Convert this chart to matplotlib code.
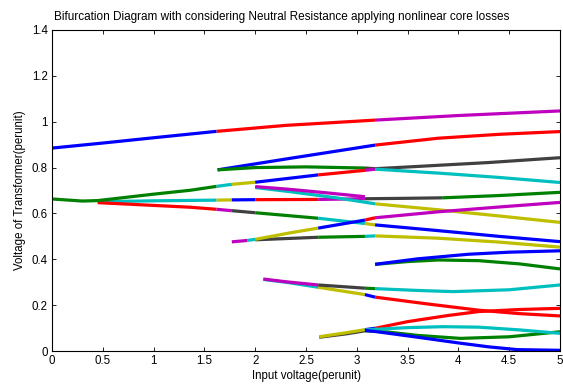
import matplotlib
matplotlib.use("Agg")
import matplotlib.pyplot as plt

# ---------------- data ----------------
title = "Bifurcation Diagram with considering Neutral Resistance applying nonlinear core losses"
xlabel = "Input voltage(perunit)"
ylabel = "Voltage of Transformer(perunit)"
xticks = [0, 0.5, 1, 1.5, 2, 2.5, 3, 3.5, 4, 4.5, 5]
yticks = [0, 0.2, 0.4, 0.6, 0.8, 1.0, 1.2, 1.4]

# each branch: x points, y points, colour code for each segment between points
b1_x = [0, 0.5, 1.0, 1.62, 2.3, 3.18, 4.0, 5.0]
b1_y = [0.885, 0.907, 0.93, 0.958, 0.984, 1.007, 1.027, 1.047]
b1_c = "bbbrrmm"

b2_x = [1.63, 2.34, 3.18, 3.8, 4.4, 5.0]
b2_y = [0.79, 0.84, 0.898, 0.928, 0.945, 0.957]
b2_c = "bbrrr"

b3_x = [1.63, 2.0, 2.5, 3.08, 3.18, 3.6, 4.3, 5.0]
b3_y = [0.79, 0.80, 0.803, 0.798, 0.795, 0.805, 0.822, 0.843]
b3_c = "gggkkkk"

b4_x = [0, 0.3, 0.45, 1.0, 1.36, 1.62, 1.77, 2.0, 2.62, 3.08, 3.18, 3.8, 4.4, 5.0]
b4_y = [0.663, 0.654, 0.656, 0.684, 0.701, 0.718, 0.727, 0.736, 0.768, 0.788, 0.793, 0.776, 0.757, 0.735]
b4_c = "gggggcybrmccc"

b5_x = [2.0, 2.34, 2.7, 3.08]
b5_y = [0.717, 0.705, 0.69, 0.673]
b5_c = "mmm"

b6_x = [2.0, 2.34, 2.8, 3.18, 3.8, 4.4, 5.0]
b6_y = [0.713, 0.695, 0.668, 0.642, 0.616, 0.589, 0.561]
b6_c = "cccyyy"

b7_x = [0.45, 1.0, 1.62, 1.77, 2.0, 2.62, 3.08, 3.5, 3.84, 4.4, 5.0]
b7_y = [0.651, 0.655, 0.658, 0.659, 0.66, 0.661, 0.664, 0.666, 0.668, 0.678, 0.692]
b7_c = "ccybrmkkgg"

b8_x = [0.45, 1.0, 1.36, 1.62, 1.77, 2.0, 2.62, 3.08, 3.18, 3.8, 4.4, 5.0]
b8_y = [0.647, 0.635, 0.627, 0.618, 0.612, 0.603, 0.579, 0.556, 0.55, 0.525, 0.5, 0.477]
b8_c = "rrrmkgcybbb"

b9_x = [1.77, 1.92, 2.0, 2.34, 2.62, 3.08, 3.18, 3.8, 4.4, 5.0]
b9_y = [0.476, 0.482, 0.487, 0.515, 0.536, 0.571, 0.581, 0.607, 0.628, 0.648]
b9_c = "mcyybrmmm"

b10_x = [2.0, 2.62, 3.08, 3.18, 3.8, 4.4, 5.0]
b10_y = [0.485, 0.496, 0.5, 0.502, 0.492, 0.475, 0.453]
b10_c = "kgcyyy"

b11_x = [2.08, 2.3, 2.62, 3.08, 3.18, 3.6, 3.95, 4.5, 5.0]
b11_y = [0.314, 0.302, 0.288, 0.274, 0.272, 0.264, 0.259, 0.267, 0.288]
b11_c = "mmkgcccc"

b12_x = [2.08, 2.3, 2.62, 3.08, 3.18, 3.7, 4.2, 4.6, 5.0]
b12_y = [0.312, 0.300, 0.278, 0.246, 0.235, 0.205, 0.178, 0.163, 0.153]
b12_c = "ccybrrrr"

b13_x = [2.63, 2.9, 3.08, 3.18, 3.5, 3.9, 4.2, 4.6, 5.0]
b13_y = [0.062, 0.080, 0.093, 0.099, 0.128, 0.155, 0.172, 0.181, 0.186]
b13_c = "yybrrrrr"

b14_x = [2.63, 2.9, 3.08, 3.3, 3.6, 4.02, 4.5, 5.0]
b14_y = [0.06, 0.075, 0.088, 0.083, 0.068, 0.055, 0.062, 0.084]
b14_c = "kkggggg"

b15_x = [3.08, 3.2, 3.6, 4.02, 4.3, 4.58, 5.0]
b15_y = [0.09, 0.084, 0.06, 0.034, 0.018, 0.006, 0.003]
b15_c = "bbbbbb"

b16_x = [3.08, 3.2, 3.5, 3.85, 4.2, 4.6, 5.0]
b16_y = [0.092, 0.095, 0.102, 0.106, 0.104, 0.092, 0.077]
b16_c = "cccccc"

b17_x = [3.18, 3.6, 4.1, 4.5, 5.0]
b17_y = [0.378, 0.402, 0.422, 0.431, 0.437]
b17_c = "bbbb"

b18_x = [3.18, 3.5, 3.8, 4.2, 4.6, 5.0]
b18_y = [0.378, 0.39, 0.397, 0.394, 0.38, 0.358]
b18_c = "ggggg"

branches = [
    (b1_x, b1_y, b1_c), (b2_x, b2_y, b2_c), (b3_x, b3_y, b3_c),
    (b7_x, b7_y, b7_c), (b8_x, b8_y, b8_c), (b6_x, b6_y, b6_c),
    (b5_x, b5_y, b5_c), (b4_x, b4_y, b4_c), (b10_x, b10_y, b10_c),
    (b9_x, b9_y, b9_c), (b12_x, b12_y, b12_c), (b11_x, b11_y, b11_c),
    (b14_x, b14_y, b14_c), (b13_x, b13_y, b13_c), (b16_x, b16_y, b16_c),
    (b15_x, b15_y, b15_c), (b18_x, b18_y, b18_c), (b17_x, b17_y, b17_c),
]

# MATLAB classic colour order
palette = {
    "b": (0, 0, 1), "g": (0, 0.5, 0), "r": (1, 0, 0), "c": (0, 0.75, 0.75),
    "m": (0.75, 0, 0.75), "y": (0.75, 0.75, 0), "k": (0.25, 0.25, 0.25),
}

# ---------------- figure ----------------
plt.rcParams["font.family"] = ["Liberation Sans", "DejaVu Sans"]
fig = plt.figure(figsize=(5.63, 3.87), dpi=100)
ax = fig.add_axes([52 / 563, 36 / 387, 508 / 563, 321 / 387])

for xs, ys, cs in branches:
    # group consecutive segments of equal colour into one polyline
    start = 0
    for i in range(1, len(cs) + 1):
        if i == len(cs) or cs[i] != cs[start]:
            ax.plot(xs[start:i + 1], ys[start:i + 1], color=palette[cs[start]],
                    lw=2.3, solid_capstyle="butt", solid_joinstyle="round")
            start = i

ax.set_xlim(0, 5)
ax.set_ylim(0, 1.4)
ax.set_xticks(xticks)
ax.set_yticks(yticks)
ax.set_xticklabels([f"{v:g}" for v in xticks])
ax.set_yticklabels([f"{v:g}" for v in yticks])
ax.tick_params(direction="in", top=True, right=True, length=3, width=0.6,
               labelsize=8.3, pad=3)
for s in ax.spines.values():
    s.set_linewidth(0.8)
fig.text(0.5, 1 - 17 / 387, title, fontsize=8.5, ha="center", va="center")
ax.set_xlabel(xlabel, fontsize=8.3, labelpad=2)
ax.set_ylabel(ylabel, fontsize=8.3, labelpad=4)

fig.savefig("out.png", dpi=100)
